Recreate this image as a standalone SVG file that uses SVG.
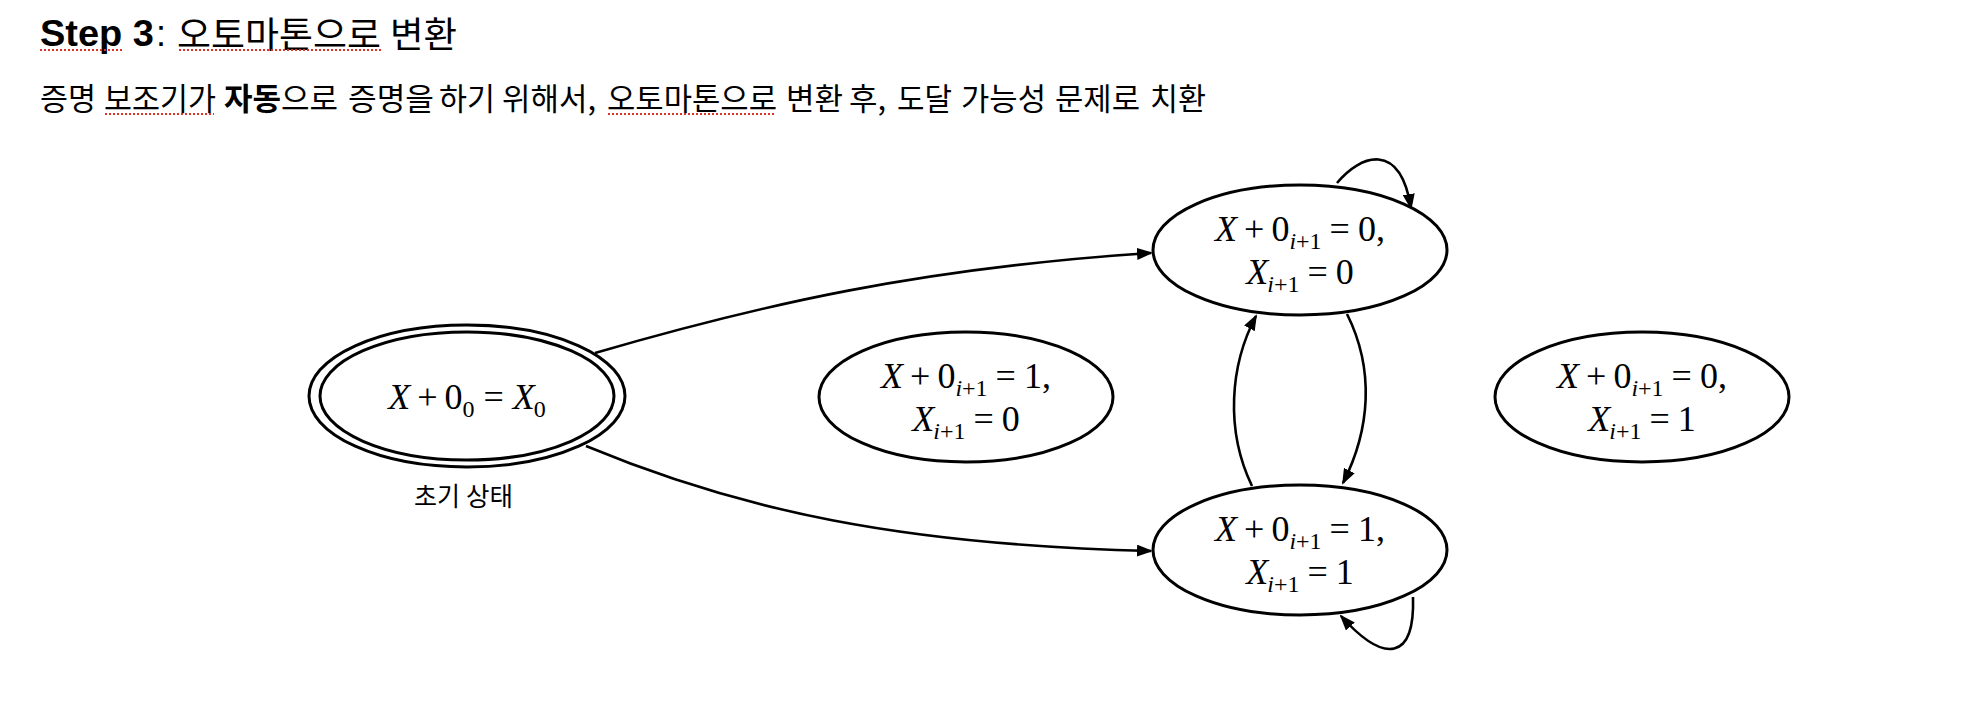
<svg xmlns="http://www.w3.org/2000/svg" width="1972" height="728" viewBox="0 0 1972 728">
<style>
  .bg{fill:#fff}
  .node{fill:#fff;stroke:#000;stroke-width:3}
  .edge{fill:none;stroke:#000;stroke-width:2.6}
  .m{font-family:"Liberation Serif","DejaVu Serif",serif;font-size:36px;fill:#000;text-anchor:middle}
  .i{font-style:italic}
  .s{font-size:24px}
  .kr{font-family:"Noto Sans CJK KR",sans-serif;fill:#000}
  .lat{font-family:"Liberation Sans","Noto Sans CJK KR",sans-serif;fill:#000}
  .spell{stroke:#e0302a;stroke-width:2;stroke-dasharray:2 2;fill:none}
</style>
<defs>
  <marker id="arrow" markerUnits="userSpaceOnUse" viewBox="0 0 16 12" markerWidth="16" markerHeight="12" refX="14" refY="6" orient="auto">
    <path d="M0,0 L16,6 L0,12 z" fill="#000"/>
  </marker>
</defs>
<rect class="bg" x="0" y="0" width="1972" height="728"/>

<g id="title">
  <text y="46" font-size="36"><tspan class="lat" x="40" font-weight="bold" textLength="114" lengthAdjust="spacingAndGlyphs">Step 3</tspan><tspan class="lat" x="156">:</tspan></text>
  <text class="kr" y="48" font-size="36"><tspan x="177" textLength="204" lengthAdjust="spacingAndGlyphs">오토마톤으로</tspan><tspan x="390" textLength="67" lengthAdjust="spacingAndGlyphs">변환</tspan></text>
  <line class="spell" x1="40" y1="50" x2="123" y2="50"/>
  <line class="spell" x1="179" y1="50" x2="381" y2="50"/>
</g>

<g id="subtitle">
  <text class="kr" y="110" font-size="31"><tspan x="40" textLength="56" lengthAdjust="spacingAndGlyphs">증명</tspan><tspan x="104" textLength="112" lengthAdjust="spacingAndGlyphs">보조기가</tspan><tspan x="224" font-weight="bold" textLength="57" lengthAdjust="spacingAndGlyphs">자동</tspan><tspan x="281" textLength="57" lengthAdjust="spacingAndGlyphs">으로</tspan><tspan x="348" textLength="86" lengthAdjust="spacingAndGlyphs">증명을</tspan><tspan x="439" textLength="56" lengthAdjust="spacingAndGlyphs">하기</tspan><tspan x="502" textLength="94" lengthAdjust="spacingAndGlyphs">위해서,</tspan><tspan x="607" textLength="170" lengthAdjust="spacingAndGlyphs">오토마톤으로</tspan><tspan x="786" textLength="57" lengthAdjust="spacingAndGlyphs">변환</tspan><tspan x="849" textLength="37" lengthAdjust="spacingAndGlyphs">후,</tspan><tspan x="897" textLength="55" lengthAdjust="spacingAndGlyphs">도달</tspan><tspan x="961" textLength="85" lengthAdjust="spacingAndGlyphs">가능성</tspan><tspan x="1055" textLength="85" lengthAdjust="spacingAndGlyphs">문제로</tspan><tspan x="1150" textLength="56" lengthAdjust="spacingAndGlyphs">치환</tspan></text>
  <line class="spell" x1="105" y1="114" x2="214" y2="114"/>
  <line class="spell" x1="608" y1="114" x2="776" y2="114"/>
</g>

<g id="connectors">
  <path class="edge" d="M595,353 C760,305 920,268 1151,253" marker-end="url(#arrow)"/>
  <path class="edge" d="M586,446 C740,510 900,545 1151,551" marker-end="url(#arrow)"/>
  <path class="edge" d="M1347,314 C1375,370 1370,430 1343,483" marker-end="url(#arrow)"/>
  <path class="edge" d="M1252,486 C1225,430 1230,365 1256,316" marker-end="url(#arrow)"/>
  <path class="edge" d="M1337,183 C1360,155 1400,140 1411,208" marker-end="url(#arrow)"/>
  <path class="edge" d="M1413,597 C1415,660 1385,665 1341,616" marker-end="url(#arrow)"/>
</g>

<g id="node-init">
  <ellipse class="node" cx="467" cy="396" rx="158" ry="71"/>
  <ellipse class="node" cx="467" cy="396" rx="147" ry="64"/>
  <text class="m" x="467" y="409"><tspan class="i">X</tspan><tspan dx="7">+</tspan><tspan dx="7">0</tspan><tspan class="s" dy="8">0</tspan><tspan dy="-8" dx="9">=</tspan><tspan dx="9" class="i">X</tspan><tspan class="s" dy="8" dx="-1">0</tspan></text>
  <text class="kr" y="506" font-size="26"><tspan x="414" textLength="46" lengthAdjust="spacingAndGlyphs">초기</tspan><tspan x="466" textLength="47" lengthAdjust="spacingAndGlyphs">상태</tspan></text>
</g>

<g id="node-mid">
  <ellipse class="node" cx="966" cy="397" rx="147" ry="65"/>
  <text class="m" x="966" y="388"><tspan class="i">X</tspan><tspan dx="7">+</tspan><tspan dx="7">0</tspan><tspan class="s" dy="8"><tspan class="i">i</tspan>+1</tspan><tspan dy="-8" dx="8">=</tspan><tspan dx="8">1,</tspan></text>
  <text class="m" x="966" y="431"><tspan class="i">X</tspan><tspan class="s" dy="8" dx="-1"><tspan class="i">i</tspan>+1</tspan><tspan dy="-8" dx="8">=</tspan><tspan dx="8">0</tspan></text>
</g>

<g id="node-top">
  <ellipse class="node" cx="1300" cy="250" rx="147" ry="65"/>
  <text class="m" x="1300" y="241"><tspan class="i">X</tspan><tspan dx="7">+</tspan><tspan dx="7">0</tspan><tspan class="s" dy="8"><tspan class="i">i</tspan>+1</tspan><tspan dy="-8" dx="8">=</tspan><tspan dx="8">0,</tspan></text>
  <text class="m" x="1300" y="284"><tspan class="i">X</tspan><tspan class="s" dy="8" dx="-1"><tspan class="i">i</tspan>+1</tspan><tspan dy="-8" dx="8">=</tspan><tspan dx="8">0</tspan></text>
</g>

<g id="node-bottom">
  <ellipse class="node" cx="1300" cy="550" rx="147" ry="65"/>
  <text class="m" x="1300" y="541"><tspan class="i">X</tspan><tspan dx="7">+</tspan><tspan dx="7">0</tspan><tspan class="s" dy="8"><tspan class="i">i</tspan>+1</tspan><tspan dy="-8" dx="8">=</tspan><tspan dx="8">1,</tspan></text>
  <text class="m" x="1300" y="584"><tspan class="i">X</tspan><tspan class="s" dy="8" dx="-1"><tspan class="i">i</tspan>+1</tspan><tspan dy="-8" dx="8">=</tspan><tspan dx="8">1</tspan></text>
</g>

<g id="node-right">
  <ellipse class="node" cx="1642" cy="397" rx="147" ry="65"/>
  <text class="m" x="1642" y="388"><tspan class="i">X</tspan><tspan dx="7">+</tspan><tspan dx="7">0</tspan><tspan class="s" dy="8"><tspan class="i">i</tspan>+1</tspan><tspan dy="-8" dx="8">=</tspan><tspan dx="8">0,</tspan></text>
  <text class="m" x="1642" y="431"><tspan class="i">X</tspan><tspan class="s" dy="8" dx="-1"><tspan class="i">i</tspan>+1</tspan><tspan dy="-8" dx="8">=</tspan><tspan dx="8">1</tspan></text>
</g>
</svg>
